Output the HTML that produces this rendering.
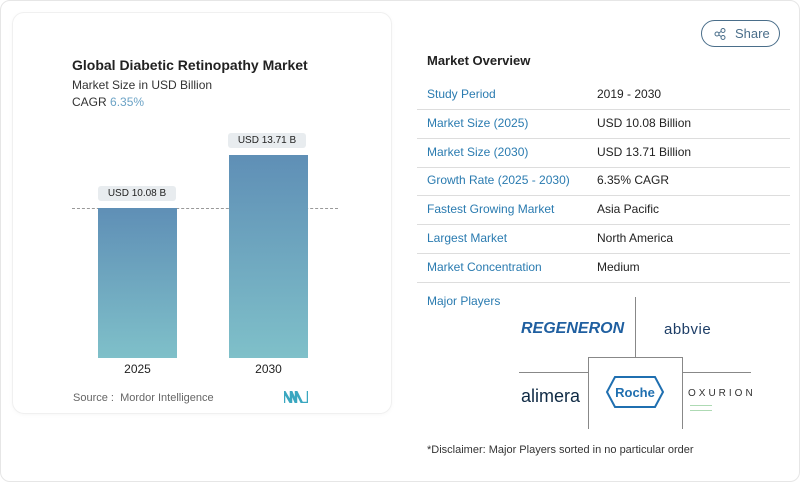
<!DOCTYPE html>
<html><head><style>
body{margin:0;width:800px;height:482px;background:#fff;font-family:"Liberation Sans",sans-serif;position:relative;overflow:hidden}
.abs{position:absolute}
.frame{left:0;top:0;width:798px;height:480px;border:1px solid #e6e6e6;border-radius:10px}
.card{left:12px;top:12px;width:378px;height:400px;border:1px solid #f0f0f0;border-radius:12px;box-shadow:0 1px 4px rgba(0,0,0,0.03)}
.bar{background:linear-gradient(#5f8fb6,#7fc0c9)}
.lbl{background:#e8ecef;border-radius:3px;font-size:10px;color:#222;text-align:center;line-height:15px}
.row{left:417px;width:373px;height:28px;border-bottom:1px solid #ddd;font-size:12px}
.row span{position:absolute;top:6px}
.row .k{left:10px;color:#2a7bb0}
.row .v{left:180px;color:#222}
</style></head><body>
<div class="abs frame"></div>
<div class="abs card"></div>
<div class="abs" style="left:72px;top:57px;font-size:14px;font-weight:bold;color:#222">Global Diabetic Retinopathy Market</div>
<div class="abs" style="left:72px;top:78px;font-size:12px;color:#333">Market Size in USD Billion</div>
<div class="abs" style="left:72px;top:95px;font-size:12px;color:#333">CAGR <span style="color:#6ca3c6">6.35%</span></div>
<div class="abs" style="left:72px;top:208px;width:266px;border-top:1px dashed #999"></div>
<div class="abs bar" style="left:98px;top:208px;width:79px;height:150px"></div>
<div class="abs bar" style="left:229px;top:155px;width:79px;height:203px"></div>
<div class="abs lbl" style="left:98px;top:186px;width:78px">USD 10.08 B</div>
<div class="abs lbl" style="left:228px;top:133px;width:78px">USD 13.71 B</div>
<div class="abs" style="left:98px;top:362px;width:79px;text-align:center;font-size:12px;color:#222">2025</div>
<div class="abs" style="left:229px;top:362px;width:79px;text-align:center;font-size:12px;color:#222">2030</div>
<div class="abs" style="left:73px;top:392px;font-size:11px;color:#666">Source :&nbsp; Mordor Intelligence</div>
<svg class="abs" style="left:284px;top:391px" width="24" height="12"><path d="M0 12V0l7 12V0l5 12V0l6 12h6V0" fill="none" stroke="#3aa7c0" stroke-width="2.5"/></svg>

<div class="abs" style="left:701px;top:20px;width:77px;height:25px;border:1px solid #4a6e8a;border-radius:14px;font-size:13px;color:#4a6e8a;line-height:25px">
<svg class="abs" style="left:12px;top:7px" width="12" height="12"><circle cx="3" cy="6" r="2" fill="none" stroke="#4a6e8a"/><circle cx="9" cy="2.5" r="2" fill="none" stroke="#4a6e8a"/><circle cx="9" cy="9.5" r="2" fill="none" stroke="#4a6e8a"/><path d="M5 5L7 3.5M5 7L7 8.5" stroke="#4a6e8a"/></svg>
<span style="margin-left:33px">Share</span></div>
<div class="abs" style="left:427px;top:53px;font-size:13px;font-weight:bold;color:#222">Market Overview</div>
<div class="abs row" style="top:81px"><span class="k">Study Period</span><span class="v">2019 - 2030</span></div>
<div class="abs row" style="top:110px"><span class="k">Market Size (2025)</span><span class="v">USD 10.08 Billion</span></div>
<div class="abs row" style="top:139px"><span class="k">Market Size (2030)</span><span class="v">USD 13.71 Billion</span></div>
<div class="abs row" style="top:167px"><span class="k">Growth Rate (2025 - 2030)</span><span class="v">6.35% CAGR</span></div>
<div class="abs row" style="top:196px"><span class="k">Fastest Growing Market</span><span class="v">Asia Pacific</span></div>
<div class="abs row" style="top:225px"><span class="k">Largest Market</span><span class="v">North America</span></div>
<div class="abs row" style="top:254px"><span class="k">Market Concentration</span><span class="v">Medium</span></div>
<div class="abs" style="left:427px;top:294px;font-size:12px;color:#2a7bb0">Major Players</div>
<div class="abs" style="left:635px;top:297px;width:1px;height:60px;background:#888"></div>
<div class="abs" style="left:519px;top:372px;width:69px;height:1px;background:#888"></div>
<div class="abs" style="left:682px;top:372px;width:69px;height:1px;background:#888"></div>
<div class="abs" style="left:588px;top:357px;width:93px;height:71px;border:1px solid #888;border-bottom:none"></div>
<div class="abs" style="left:521px;top:320px;font-size:16px;font-weight:bold;font-style:italic;color:#1f5fa0">REGENERON</div>
<div class="abs" style="left:664px;top:321px;font-size:15px;color:#1d3d66;letter-spacing:0.5px">abbvie</div>
<div class="abs" style="left:521px;top:386px;font-size:18px;color:#0f2a44">alimera</div>
<svg class="abs" style="left:605px;top:376px" width="60" height="32"><polygon points="10,1 50,1 58,16 50,31 10,31 2,16" fill="none" stroke="#1f6fb0" stroke-width="2"/><text x="30" y="21" text-anchor="middle" font-family="Liberation Sans" font-weight="bold" font-size="13" fill="#1f6fb0">Roche</text></svg>
<div class="abs" style="left:688px;top:388px;font-size:10px;color:#333;letter-spacing:3px">OXURION</div>
<div class="abs" style="left:690px;top:405px;width:22px;height:4px;border-top:1px solid #aedab4;border-bottom:1px solid #aedab4"></div>
<div class="abs" style="left:427px;top:444px;font-size:11px;color:#333">*Disclaimer: Major Players sorted in no particular order</div>
</body></html>
